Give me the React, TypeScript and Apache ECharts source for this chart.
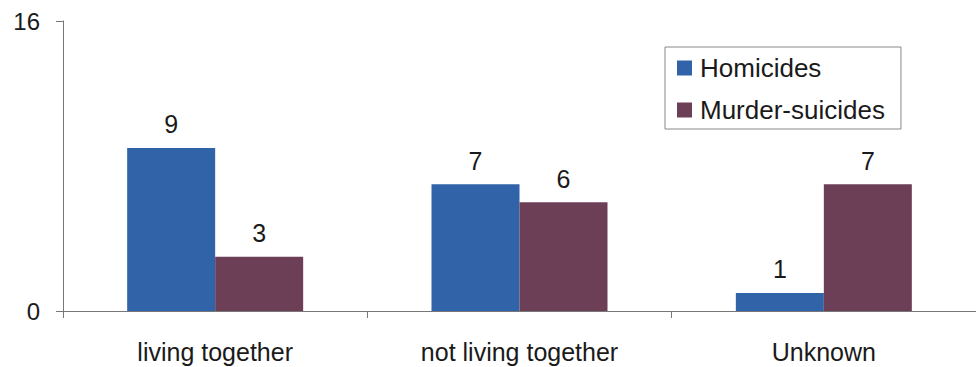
import React, { useEffect, useRef } from "react";
import * as echarts from "echarts";

const categories = ["living together", "not living together", "Unknown"];
const homicides = [9, 7, 1];
const murderSuicides = [3, 6, 7];
const seriesNames = ["Homicides", "Murder-suicides"];
const yMin = 0;
const yMax = 16;

export default function App() {
  const ref = useRef<HTMLDivElement>(null);
  useEffect(() => {
    if (!ref.current) return;
    const chart = echarts.init(ref.current, undefined, { renderer: "svg" });
    const font = "'Liberation Sans', Arial, Helvetica, sans-serif";
    const labelStyle = {
      show: true,
      position: "top" as const,
      distance: 11,
      fontSize: 25,
      color: "#1a1a1a",
      fontFamily: font,
    };
    chart.setOption({
      animation: false,
      backgroundColor: "#ffffff",
      grid: { left: 63, top: 21, width: 919, height: 290, containLabel: false },
      legend: {
        orient: "vertical",
        left: 665,
        top: 47,
        data: seriesNames,
        icon: "rect",
        itemWidth: 15,
        itemHeight: 15,
        itemGap: 16,
        padding: [8, 16, 6, 12],
        borderColor: "#888",
        borderWidth: 1,
        textStyle: { fontSize: 26, color: "#1a1a1a", fontFamily: font, padding: [0, 0, 0, 3] },
      },
      xAxis: {
        type: "category",
        data: categories,
        axisLine: { lineStyle: { color: "#777", width: 1 } },
        axisTick: { show: true, length: 7, lineStyle: { color: "#777" } },
        axisLabel: { fontSize: 25, color: "#1a1a1a", fontFamily: font, margin: 28 },
      },
      yAxis: {
        type: "value",
        min: yMin,
        max: yMax,
        interval: 16,
        splitLine: { show: false },
        axisLine: { show: true, lineStyle: { color: "#777", width: 1 } },
        axisTick: { show: true, length: 7, lineStyle: { color: "#777" } },
        axisLabel: { fontSize: 24, color: "#1a1a1a", fontFamily: font, margin: 23 },
      },
      series: [
        {
          name: seriesNames[0],
          type: "bar",
          data: homicides,
          barWidth: 88,
          barGap: "0%",
          itemStyle: { color: "#3063A8" },
          label: labelStyle,
        },
        {
          name: seriesNames[1],
          type: "bar",
          data: murderSuicides,
          barWidth: 88,
          barGap: "0%",
          itemStyle: { color: "#6D3F56" },
          label: labelStyle,
        },
      ],
    });
    return () => chart.dispose();
  }, []);
  return (
    <div
      ref={ref}
      style={{ position: "fixed", left: 0, top: 0, width: 976, height: 367, background: "#fff" }}
    />
  );
}
